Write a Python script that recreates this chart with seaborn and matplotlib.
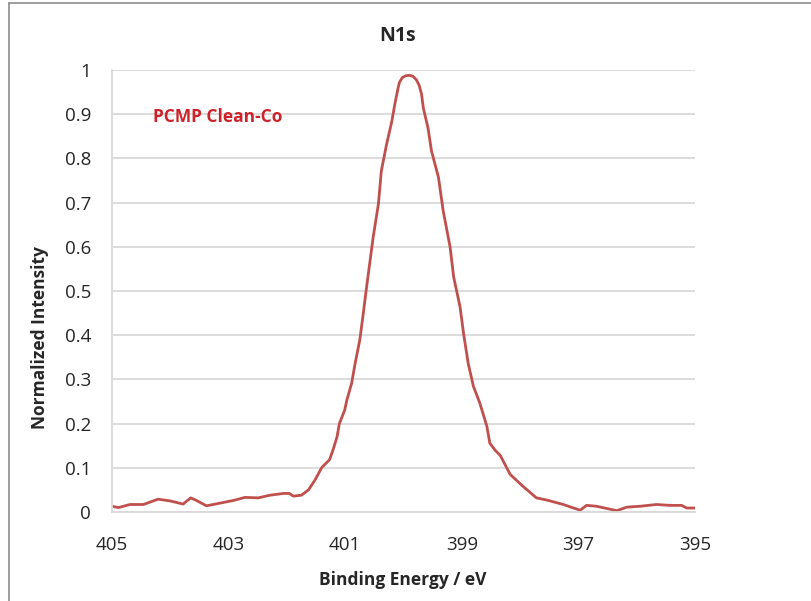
import pandas as pd
import matplotlib.pyplot as plt
import seaborn as sns
from matplotlib.lines import Line2D

# N1s spectrum
binding_energy = [
    405.00, 404.89, 404.69, 404.46, 404.21, 404.00, 403.78, 403.65, 403.55, 403.38,
    403.15, 402.92, 402.72, 402.49, 402.29, 402.06, 401.96, 401.89, 401.75, 401.63,
    401.52, 401.40, 401.27, 401.21, 401.14, 401.10, 401.01, 400.97, 400.89, 400.83,
    400.75, 400.69, 400.64, 400.58, 400.52, 400.43, 400.38, 400.29, 400.20, 400.15,
    400.10, 400.07, 400.02, 399.96, 399.90, 399.84, 399.78, 399.73, 399.69, 399.66,
    399.58, 399.52, 399.40, 399.32,
    399.20, 399.14, 399.03, 398.97, 398.89, 398.80, 398.69, 398.57, 398.52, 398.43,
    398.34, 398.17, 397.95, 397.72, 397.54, 397.26, 396.97, 396.86, 396.69, 396.34,
    396.17, 395.94, 395.66, 395.43, 395.23, 395.14, 395.00,
]
intensity = [
    0.013, 0.010, 0.017, 0.017, 0.029, 0.025, 0.018, 0.032, 0.026, 0.014,
    0.020, 0.026, 0.033, 0.032, 0.038, 0.042, 0.042, 0.036, 0.038, 0.050,
    0.072, 0.101, 0.118, 0.140, 0.170, 0.200, 0.230, 0.254, 0.291, 0.336,
    0.389, 0.449, 0.502, 0.562, 0.622, 0.697, 0.772, 0.832, 0.884, 0.922,
    0.955, 0.972, 0.983, 0.987, 0.988, 0.986, 0.978, 0.965, 0.945, 0.914,
    0.869, 0.817, 0.757, 0.682,
    0.599, 0.532, 0.464, 0.404, 0.336, 0.284, 0.246, 0.194, 0.156, 0.140,
    0.128, 0.085, 0.058, 0.032, 0.027, 0.017, 0.004, 0.015, 0.013, 0.003,
    0.011, 0.013, 0.017, 0.015, 0.015, 0.009, 0.009,
]
x_ticks = [405, 403, 401, 399, 397, 395]
y_ticks = [0, 0.1, 0.2, 0.3, 0.4, 0.5, 0.6, 0.7, 0.8, 0.9, 1]
y_tick_labels = ["0", "0.1", "0.2", "0.3", "0.4", "0.5", "0.6", "0.7", "0.8", "0.9", "1"]
sample_label = "PCMP Clean-Co"


def main():
    df = pd.DataFrame({"Binding Energy": binding_energy, "Intensity": intensity})

    sns.set_style("white")
    plt.rcParams["font.family"] = ["Open Sans", "DejaVu Sans"]

    fig = plt.figure(figsize=(8.11, 6.01), dpi=100)
    ax = fig.add_axes([112 / 811, 1 - 512 / 601, 583 / 811, 442 / 601])

    sns.lineplot(data=df, x="Binding Energy", y="Intensity", sort=False,
                 color="#c0504d", linewidth=2.0, ax=ax)

    ax.set_xlim(405, 395)
    ax.set_ylim(0, 1)
    ax.set_xticks(x_ticks)
    ax.set_xticklabels([str(t) for t in x_ticks], fontsize=13.5, color="#262626")
    ax.set_yticks(y_ticks)
    ax.set_yticklabels(y_tick_labels, fontsize=13.5, color="#262626")
    ax.tick_params(length=0)
    ax.tick_params(axis="y", pad=15)
    ax.tick_params(axis="x", pad=17)

    ax.yaxis.grid(True, color="#d9d9d9", linewidth=1.3)
    ax.set_axisbelow(True)
    for side in ["top", "right"]:
        ax.spines[side].set_visible(False)
    for side in ["left", "bottom"]:
        ax.spines[side].set_color("#d9d9d9")
        ax.spines[side].set_linewidth(1.3)

    ax.set_xlabel("")
    ax.set_ylabel("")
    fig.text(403 / 811, 1 - 580 / 601, "Binding Energy / eV", ha="center", va="center",
             fontsize=12.5, fontweight="bold", color="#262626")
    fig.text(40 / 811, 1 - 338 / 601, "Normalized Intensity", ha="center", va="center",
             rotation=90, fontsize=12.5, fontweight="bold", color="#262626")
    fig.text(398 / 811, 1 - 36 / 601, "N1s", ha="center", va="center",
             fontsize=14, fontweight="bold", color="#262626")

    ax.text(404.30, 0.894, sample_label, ha="left", va="center",
            fontsize=12.5, fontweight="bold", color="#cc2229")

    # chart area border (only top and left visible in the reference)
    fig.add_artist(Line2D([9 / 811, 1], [1 - 3 / 601, 1 - 3 / 601], color="#8c8c8c", linewidth=1.2))
    fig.add_artist(Line2D([9 / 811, 9 / 811], [0, 1 - 3 / 601], color="#8c8c8c", linewidth=1.2))

    fig.savefig("out.png", dpi=100)


if __name__ == "__main__":
    main()
